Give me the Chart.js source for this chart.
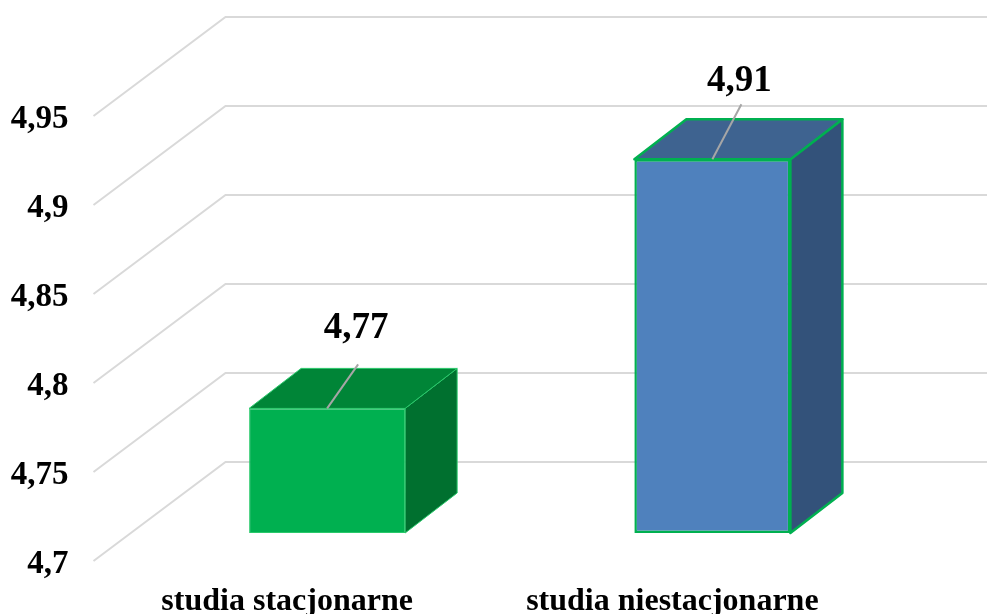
<!DOCTYPE html>
<html>
<head>
<meta charset="utf-8">
<title>studia</title>
<script src="https://cdn.jsdelivr.net/npm/chart.js@4"></script>
<style>
  html, body { margin: 0; padding: 0; background: #fff; }
  canvas { display: block; }
</style>
</head>
<body>
<canvas id="chart" width="987" height="614"></canvas>
<script>
const categories = ['studia stacjonarne', 'studia niestacjonarne'];
const values = [4.77, 4.91];
const tickValues = [4.7, 4.75, 4.8, 4.85, 4.9, 4.95];

const frontColors = ['#00b050', '#4f81bd'];
const topColors = ['#008537', '#3e6390'];
const sideColors = ['#00702f', '#33527a'];
const edgeColors = ['#29c96b', '#00b050'];
const edgeWidths = [1, 2.5];

const fontName = '"Liberation Serif", "Times New Roman", serif';

// how far the bars sit behind the axis plane, and how deep they are
const barShift = { x: 40, y: -28 };
const barDepth = { x: 52, y: -40 };
// from axis plane to back wall
const wall = { x: 132, y: -99 };
const wallRight = 987;

// leader line end and label placement, relative to the bar top
const leaderX = [31, 29];
const leaderY = [-44, -55];
const labelGap = [26, 13];

function comma(v) {
    return String(v).replace('.', ',');
}

function poly(ctx, pts, fill, stroke, width) {
    ctx.beginPath();
    pts.forEach((p, i) => i ? ctx.lineTo(p[0], p[1]) : ctx.moveTo(p[0], p[1]));
    ctx.closePath();
    ctx.fillStyle = fill;
    ctx.fill();
    ctx.lineWidth = width;
    ctx.lineJoin = 'round';
    ctx.strokeStyle = stroke;
    ctx.stroke();
}

const wallGrid = {
    id: 'wallGrid',
    beforeDatasetsDraw(chart) {
        const { ctx, scales } = chart;
        ctx.save();
        ctx.strokeStyle = '#d9d9d9';
        ctx.lineWidth = 2;
        tickValues.forEach(v => {
            const y = scales.y.getPixelForValue(v);
            const x = scales.x.left - 1;
            ctx.beginPath();
            ctx.moveTo(x, y);
            ctx.lineTo(x + wall.x, y + wall.y);
            ctx.lineTo(wallRight, y + wall.y);
            ctx.stroke();
        });
        ctx.restore();
    }
};

const bars3d = {
    id: 'bars3d',
    beforeDatasetsDraw(chart) {
        const { ctx } = chart;
        ctx.save();
        ctx.translate(barShift.x, barShift.y);
        chart.getDatasetMeta(0).data.forEach((bar, i) => {
            const l = bar.x - bar.width / 2, r = bar.x + bar.width / 2;
            const t = bar.y, b = bar.base;
            const dx = barDepth.x, dy = barDepth.y;
            poly(ctx, [[r, t], [r + dx, t + dy], [r + dx, b + dy], [r, b]], sideColors[i], edgeColors[i], edgeWidths[i]);
            poly(ctx, [[l, t], [l + dx, t + dy], [r + dx, t + dy], [r, t]], topColors[i], edgeColors[i], edgeWidths[i]);
        });
    },
    afterDatasetsDraw(chart) {
        const { ctx } = chart;
        ctx.restore();
        ctx.save();
        chart.getDatasetMeta(0).data.forEach((bar, i) => {
            const x = bar.x + barShift.x, y = bar.y + barShift.y;
            const endX = x + leaderX[i], endY = y + leaderY[i];
            ctx.beginPath();
            ctx.moveTo(x, y);
            ctx.lineTo(endX, endY);
            ctx.lineWidth = 2;
            ctx.strokeStyle = '#a6a6a6';
            ctx.stroke();
            ctx.fillStyle = '#000';
            ctx.font = 'bold 37px ' + fontName;
            ctx.textAlign = 'center';
            ctx.textBaseline = 'alphabetic';
            ctx.fillText(comma(values[i]), endX - 2, endY - labelGap[i]);
        });
        ctx.restore();
    }
};

new Chart(document.getElementById('chart'), {
    type: 'bar',
    data: {
        labels: categories,
        datasets: [{
            data: values,
            base: 4.7,
            backgroundColor: frontColors,
            borderColor: edgeColors,
            borderWidth: edgeWidths,
            borderSkipped: false,
            categoryPercentage: 1,
            barPercentage: 0.405,
            clip: false
        }]
    },
    options: {
        responsive: false,
        animation: false,
        layout: { padding: { top: 116, right: 122, left: 0, bottom: 0 } },
        plugins: {
            legend: { display: false },
            tooltip: { enabled: false }
        },
        scales: {
            x: {
                grid: { display: false },
                border: { display: false },
                ticks: {
                    color: '#000',
                    maxRotation: 0,
                    padding: 14,
                    font: { family: fontName, size: 32, weight: 'bold' }
                },
                afterFit(scale) { scale.height = 53; }
            },
            y: {
                min: 4.7,
                max: 4.95,
                afterBuildTicks(scale) { scale.ticks = tickValues.map(v => ({ value: v })); },
                grid: { display: false },
                border: { display: false },
                ticks: {
                    color: '#000',
                    padding: 18,
                    labelOffset: 3,
                    font: { family: fontName, size: 33, weight: 'bold' },
                    callback: comma
                },
                afterFit(scale) { scale.width = 94.5; }
            }
        }
    },
    plugins: [wallGrid, bars3d]
});
</script>
</body>
</html>
